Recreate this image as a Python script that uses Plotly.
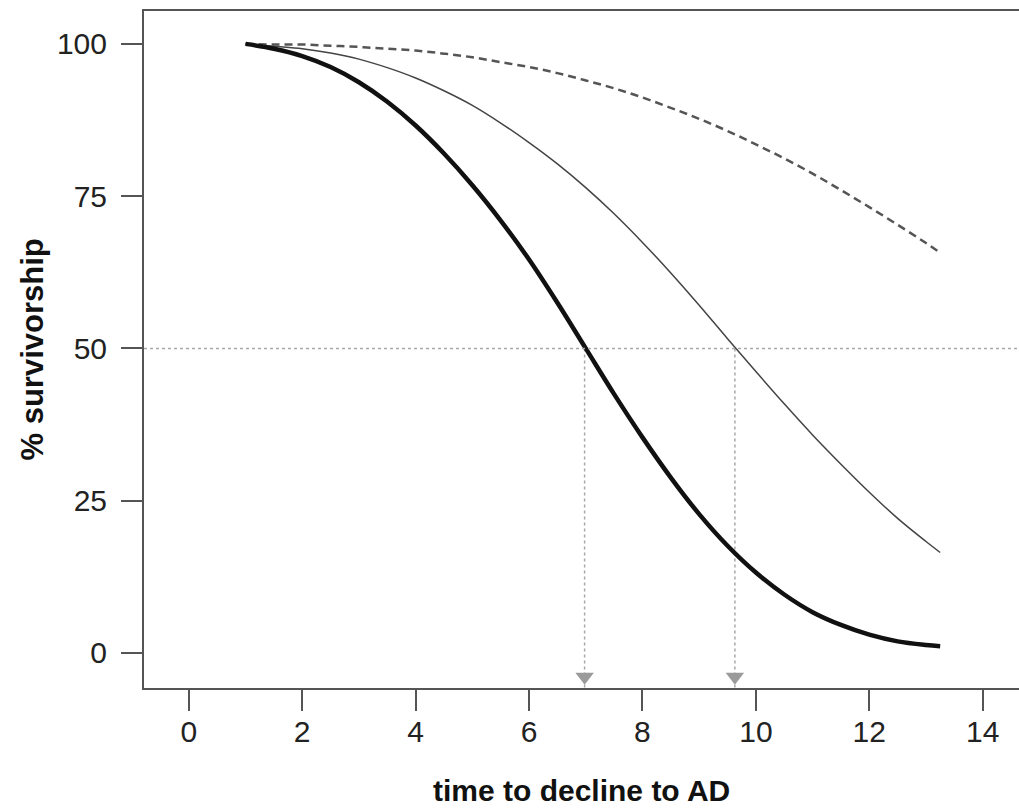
import plotly.graph_objects as go

# ---- data ----
t = [1, 1.5, 2, 2.5, 3, 3.5, 4, 4.5, 5, 5.5, 6, 6.5, 7, 7.5, 8, 8.5, 9, 9.5,
     10, 10.5, 11, 11.5, 12, 12.5, 13, 13.25]
surv_thick = [100.0, 99.2, 98.0, 96.2, 93.7, 90.5, 86.6, 82.0, 76.8, 71.0, 64.6, 57.5,
              50.0, 42.5, 35.4, 28.8, 22.8, 17.6, 13.2, 9.6, 6.7, 4.6, 3.0, 1.9, 1.3, 1.1]
surv_thin = [100.0, 99.6, 99.2, 98.5, 97.5, 96.1, 94.4, 92.3, 89.9, 87.0, 83.8, 80.3,
             76.4, 72.1, 67.4, 62.4, 57.1, 51.6, 46.2, 40.9, 35.8, 31.0, 26.4, 22.1, 18.3, 16.5]
surv_dash = [100.0, 99.9, 99.9, 99.7, 99.5, 99.2, 98.9, 98.4, 97.8, 97.0, 96.2, 95.2,
             94.0, 92.7, 91.2, 89.5, 87.7, 85.7, 83.5, 81.2, 78.7, 76.0, 73.2, 70.3, 67.3, 65.7]
medians = [6.98, 9.63]
half_level = 50
x_ticks = [0, 2, 4, 6, 8, 10, 12, 14]
y_ticks = [0, 25, 50, 75, 100]

x_range = [-0.79, 14.64]
y_range = [-5.75, 105.4]

FONT = "Liberation Sans, Arial, Helvetica"

fig = go.Figure()

# horizontal dotted reference at 50%
fig.add_shape(type="line", xref="paper", x0=0, x1=1, yref="y", y0=half_level, y1=half_level,
              line=dict(color="#a8a8a8", width=1.5, dash="dot"))

# vertical dotted drops to axis
for m in medians:
    fig.add_trace(go.Scatter(x=[m, m], y=[half_level, y_range[0]], mode="lines",
                             line=dict(color="#a8a8a8", width=1.5, dash="dot"),
                             showlegend=False, hoverinfo="skip"))

fig.add_trace(go.Scatter(x=t, y=surv_dash, mode="lines", line_shape="spline",
                         line=dict(color="#555555", width=2.5, dash="8px,5px"),
                         showlegend=False))
fig.add_trace(go.Scatter(x=t, y=surv_thin, mode="lines", line_shape="spline",
                         line=dict(color="#444444", width=1.5), showlegend=False))
fig.add_trace(go.Scatter(x=t, y=surv_thick, mode="lines", line_shape="spline",
                         line=dict(color="#111111", width=4.5), showlegend=False))

# arrow heads at the axis
arrow_size = 16
arrow_off = (arrow_size / 2) * 2 ** 0.5 / 6.09
fig.add_trace(go.Scatter(x=medians, y=[y_range[0] + arrow_off] * len(medians), mode="markers",
                         marker=dict(symbol="triangle-down", size=arrow_size, color="#9a9a9a",
                                     line=dict(width=0)),
                         cliponaxis=False, showlegend=False, hoverinfo="skip"))

axis_common = dict(showline=True, linecolor="#555555", linewidth=2, ticks="outside",
                   ticklen=21, tickwidth=2, tickcolor="#555555", showgrid=False,
                   zeroline=False, tickfont=dict(family=FONT, size=30, color="#222222"))

fig.update_layout(
    width=1019, height=808,
    margin=dict(l=144, r=0, t=11, b=120),
    paper_bgcolor="white", plot_bgcolor="white",
    xaxis=dict(range=x_range, tickvals=x_ticks, mirror=True, ticklabelstandoff=-5,
               **axis_common),
    yaxis=dict(range=y_range, tickvals=y_ticks, ticklabelstandoff=8, **axis_common),
    annotations=[
        dict(text="<b>time to decline to AD</b>", xref="paper", yref="paper",
             x=0.5, y=-0.152, xanchor="center", yanchor="middle", showarrow=False,
             font=dict(family=FONT, size=30, color="#111111")),
        dict(text="<b>% survivorship</b>", xref="paper", yref="paper",
             x=-0.128, y=0.5, xanchor="center", yanchor="middle", textangle=-90,
             showarrow=False, font=dict(family=FONT, size=31, color="#111111")),
    ],
)

fig.write_html("out.html")
